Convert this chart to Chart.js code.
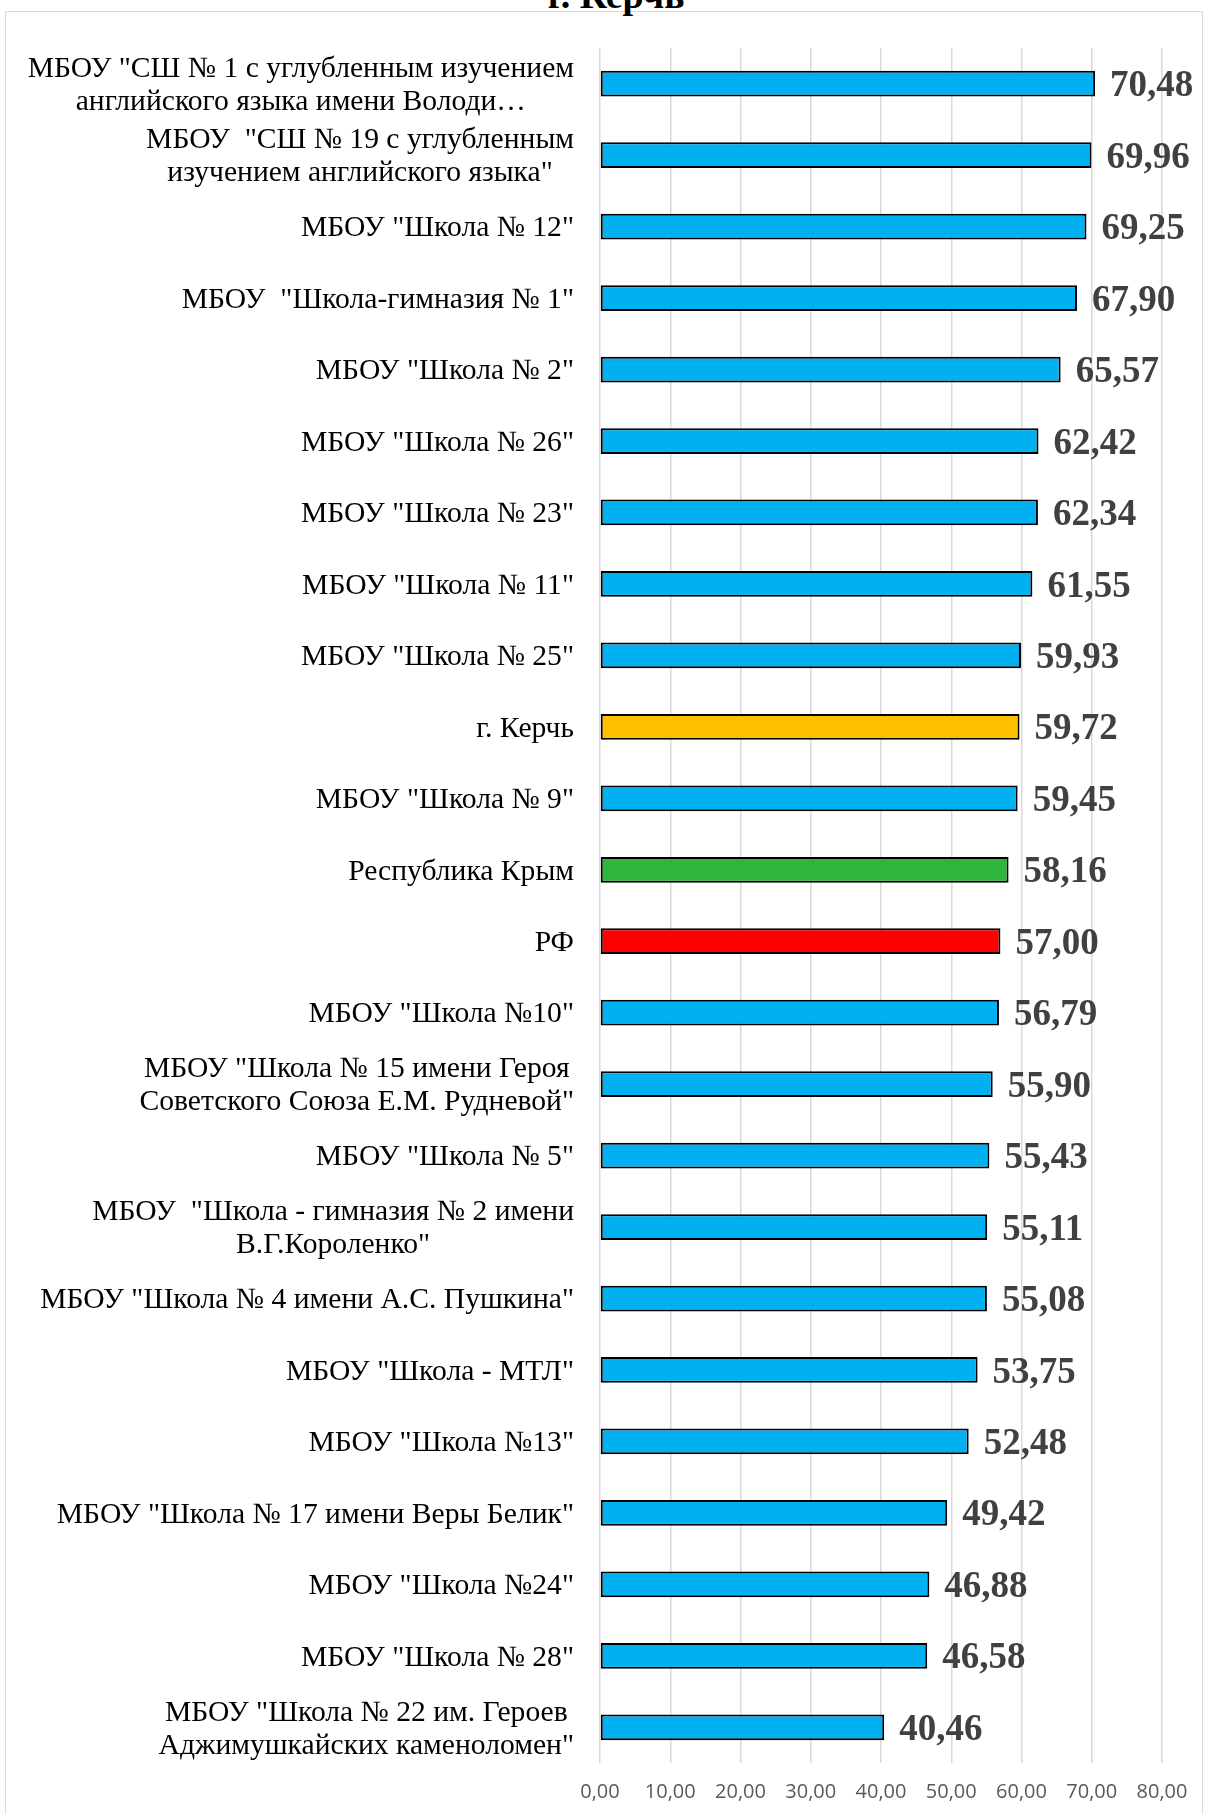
<!DOCTYPE html>
<html>
<head>
<meta charset="utf-8">
<script src="https://cdn.jsdelivr.net/npm/chart.js@4/dist/chart.umd.min.js"></script>
<style>
  html, body { margin: 0; padding: 0; background: #fff; overflow: hidden; }
  #wrap { position: relative; width: 1207px; height: 1814px; }
  #frame { position: absolute; left: 5px; top: 11px; width: 1198px; height: 1820px; border: 1.5px solid #d9d9d9; box-sizing: border-box; }
  #title { position: absolute; left: 0; width: 1232px; top: -24px; text-align: center; font: bold 38px "Liberation Serif", "Times New Roman", serif; line-height: 38px; color: #000; }
  canvas { position: absolute; left: 0; top: 0; }
</style>
</head>
<body>
<div id="wrap">
  <div id="frame"></div>
  <div id="title">г. Керчь</div>
  <canvas id="c" width="1207" height="1814"></canvas>
</div>
<script>
const categories = [
  ['МБОУ "СШ № 1 с углубленным изучением', 'английского языка имени Володи…'],
  ['МБОУ  "СШ № 19 с углубленным', 'изучением английского языка"'],
  ['МБОУ "Школа № 12"'],
  ['МБОУ  "Школа-гимназия № 1"'],
  ['МБОУ "Школа № 2"'],
  ['МБОУ "Школа № 26"'],
  ['МБОУ "Школа № 23"'],
  ['МБОУ "Школа № 11"'],
  ['МБОУ "Школа № 25"'],
  ['г. Керчь'],
  ['МБОУ "Школа № 9"'],
  ['Республика Крым'],
  ['РФ'],
  ['МБОУ "Школа №10"'],
  ['МБОУ "Школа № 15 имени Героя', 'Советского Союза Е.М. Рудневой"'],
  ['МБОУ "Школа № 5"'],
  ['МБОУ  "Школа - гимназия № 2 имени', 'В.Г.Короленко"'],
  ['МБОУ "Школа № 4 имени А.С. Пушкина"'],
  ['МБОУ "Школа - МТЛ"'],
  ['МБОУ "Школа №13"'],
  ['МБОУ "Школа № 17 имени Веры Белик"'],
  ['МБОУ "Школа №24"'],
  ['МБОУ "Школа № 28"'],
  ['МБОУ "Школа № 22 им. Героев', 'Аджимушкайских каменоломен"']
];
const values = [70.48, 69.96, 69.25, 67.90, 65.57, 62.42, 62.34, 61.55, 59.93, 59.72, 59.45, 58.16, 57.00, 56.79, 55.90, 55.43, 55.11, 55.08, 53.75, 52.48, 49.42, 46.88, 46.58, 40.46];
const barColors = values.map((v, i) => {
  const name = categories[i][0];
  if (name === 'г. Керчь') return '#FFC000';
  if (name === 'Республика Крым') return '#2FB53B';
  if (name === 'РФ') return '#FF0000';
  return '#00B0F0';
});
const xTicks = [0, 10, 20, 30, 40, 50, 60, 70, 80];

const fmt = v => v.toFixed(2).replace('.', ',');

const labelFont = '29.6px "Liberation Serif", "Times New Roman", serif';
const labelLineH = 33;
const labelRight = 574;

const categoryLabelPlugin = {
  id: 'categoryLabels',
  afterDraw(chart) {
    const ctx = chart.ctx;
    const ys = chart.scales.y;
    ctx.save();
    ctx.font = labelFont;
    ctx.fillStyle = '#000';
    ctx.textBaseline = 'middle';
    ctx.textAlign = 'center';
    categories.forEach((lines, i) => {
      const y = ys.getPixelForValue(i) + 2;
      const widths = lines.map(l => ctx.measureText(l).width);
      const maxW = Math.max(...widths);
      const cx = labelRight - maxW / 2;
      const y0 = y - (lines.length - 1) * labelLineH / 2;
      lines.forEach((l, k) => ctx.fillText(l, cx, y0 + k * labelLineH));
    });
    ctx.restore();
  }
};

const valueLabelPlugin = {
  id: 'valueLabels',
  afterDatasetsDraw(chart) {
    const ctx = chart.ctx;
    const meta = chart.getDatasetMeta(0);
    ctx.save();
    ctx.font = 'bold 37px "Liberation Serif", "Times New Roman", serif';
    ctx.fillStyle = '#404040';
    ctx.textAlign = 'left';
    ctx.textBaseline = 'middle';
    meta.data.forEach((bar, i) => {
      ctx.fillText(fmt(values[i]), bar.x + 15, bar.y + 3);
    });
    ctx.restore();
  }
};

new Chart(document.getElementById('c'), {
  type: 'bar',
  data: {
    labels: categories,
    datasets: [{
      data: values,
      backgroundColor: barColors,
      borderColor: '#000',
      borderWidth: 2,
      borderSkipped: false,
      categoryPercentage: 1,
      barPercentage: 0.36
    }]
  },
  options: {
    indexAxis: 'y',
    responsive: false,
    animation: false,
    layout: { padding: { top: 48, right: 45, left: 0, bottom: 0 } },
    plugins: { legend: { display: false }, title: { display: false }, tooltip: { enabled: false } },
    scales: {
      x: {
        min: 0, max: 80,
        afterBuildTicks(scale) { scale.ticks = xTicks.map(v => ({ value: v })); },
        afterFit(scale) { scale.height = 51; },
        grid: { color: '#d9d9d9', lineWidth: 1.5, drawTicks: false },
        border: { display: false },
        ticks: {
          padding: 17,
          color: '#595959',
          font: { family: '"Open Sans", "Liberation Sans", sans-serif', size: 20 },
          callback: v => fmt(v)
        }
      },
      y: {
        afterFit(scale) { scale.width = 600; },
        grid: { display: false, drawTicks: false },
        border: { display: false },
        ticks: { display: false }
      }
    }
  },
  plugins: [categoryLabelPlugin, valueLabelPlugin]
});
</script>
</body>
</html>
